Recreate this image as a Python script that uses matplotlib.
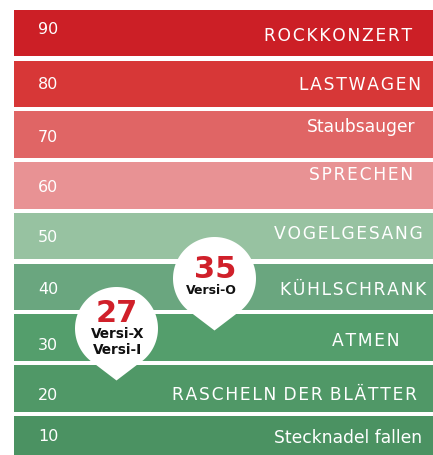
import numpy as np
import matplotlib
matplotlib.use("Agg")
import matplotlib.pyplot as plt
from matplotlib.path import Path

# decibel scale
levels = [90, 80, 70, 60, 50, 40, 30, 20, 10]
sounds = ["ROCKKONZERT", "LASTWAGEN", "Staubsauger", "SPRECHEN", "VOGELGESANG",
          "KÜHLSCHRANK", "ATMEN", "RASCHELN DER BLÄTTER", "Stecknadel fallen"]
band_colors = ["#CC1F26", "#D73737", "#E06565", "#E89294", "#97C2A1",
               "#6AA67F", "#549E6C", "#509867", "#4B9262"]

# product pins
pin_values = [35, 27]
pin_names = [["Versi-O"], ["Versi-X", "Versi-I"]]

# layout (pixels, figure is 433 x 456 at 100 dpi)
W, H = 433, 456
PX_PER_DB = 5.075
TOP_CENTER = 34          # pixel y of the 90 band centre
label_right = [412, 421, 416, 413, 423, 426, 399, 417, 422]
label_dy = [-2, 0, 8, 11, 3, -2, -2, -6, 2]       # px, positive = up
number_dy = [4, 0, -2, -1, 0, -2, -7, -6, 3]
pin_x = [214, 115.5]
pin_cy = [279, 329]      # pixel y of the circle centre
pin_name_size = [9, 9.8]


def px_to_db(y):
    return 90 - (y - TOP_CENTER) / PX_PER_DB


def tracked(s):
    # hair spaces between letters, none before a word space
    out = s[0]
    for a, b in zip(s[:-1], s[1:]):
        out += (b if b == " " else "\u200a" + b)
    return out


fig = plt.figure(figsize=(W / 100, H / 100), dpi=100)
ax = fig.add_axes([0, 0, 1, 1])
ax.set_xlim(0, W)
ax.set_ylim(px_to_db(H), px_to_db(0))
ax.axis("off")

# bands
ax.barh(levels, width=W, left=14, height=46.5 / PX_PER_DB, color=band_colors)

pt = 0.72  # points per pixel
for i, (lev, name) in enumerate(zip(levels, sounds)):
    ax.annotate(str(lev), (38, lev), xytext=(0, number_dy[i] * pt),
                textcoords="offset points", ha="left", va="center",
                color="white", fontsize=11.5, family="DejaVu Sans")
    txt = tracked(name) if name.isupper() else name
    ax.annotate(txt, (label_right[i], lev), xytext=(0, label_dy[i] * pt),
                textcoords="offset points", ha="right", va="center",
                color="white", fontsize=12.3, family="DejaVu Sans")

# pin marker: circle with a pointer below
r, tip = 41.5, 52
a0 = np.arctan2(-35, np.sqrt(r ** 2 - 35 ** 2))
theta = np.linspace(a0, np.pi - a0, 120)
verts = np.column_stack([r * np.cos(theta), r * np.sin(theta)])
verts = np.vstack([verts, [0, -tip], verts[:1]])
pin_path = Path(verts, closed=True)

for x, cy, val, names, nfs in zip(pin_x, pin_cy, pin_values, pin_names, pin_name_size):
    y = px_to_db(cy)
    ax.plot(x, y, marker=pin_path, markersize=2 * tip * pt,
            color="white", markeredgewidth=0, zorder=5)
    n = len(names)
    vdy = 4 + 6 * n
    ax.annotate(str(val), (x + 1, y), xytext=(0, vdy * pt), textcoords="offset points",
                ha="center", va="center", color="#D0202A", fontsize=22,
                fontweight="bold", family="DejaVu Sans", zorder=6)
    for k, nm in enumerate(names):
        ndy = vdy - 21 - 16 * k
        ax.annotate(nm, (x - 3 + 5 * (n - 1), y), xytext=(0, ndy * pt),
                    textcoords="offset points", ha="center", va="center",
                    color="#111111", fontsize=nfs, fontweight="bold",
                    family="DejaVu Sans", zorder=6)

fig.savefig("out.png", dpi=100)
